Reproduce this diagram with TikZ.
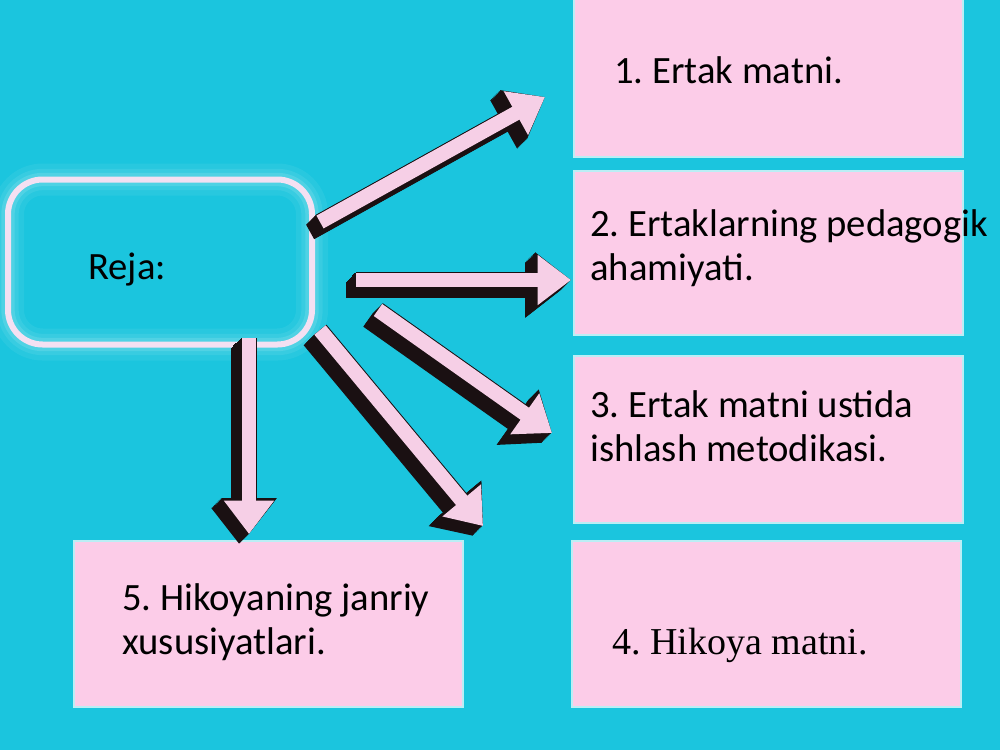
\documentclass[tikz,border=0pt]{standalone}
\usepackage{fontspec}
\setmainfont{Carlito}
\newfontfamily\romanface{Liberation Serif}
\usepackage{tikz}
\usetikzlibrary{calc}
\usetikzlibrary{shapes,arrows.meta}
\frenchspacing

\definecolor{bgcyan}{HTML}{1BC5DE}
\definecolor{boxpink}{HTML}{FCCCE8}
\definecolor{arrpink}{HTML}{F6CFE6}
\definecolor{rimpink}{HTML}{F4E0F2}
\definecolor{shade}{HTML}{1A1012}

\tikzset{
  item/.style={fill=boxpink, draw=white!70!bgcyan, line width=1.5pt,
    anchor=north west, inner sep=0pt, minimum width=291.75pt},
  itemtext/.style={anchor=west, align=left, inner sep=0pt,
    font=\fontsize{29}{33}\selectfont},
  plan/.style={draw=rimpink, line width=4.5pt, rounded corners=26pt,
    minimum width=228pt, minimum height=123.75pt,
    preaction={draw=white, draw opacity=0.06, line width=24pt},
    preaction={draw=white, draw opacity=0.08, line width=16pt},
    preaction={draw=white, draw opacity=0.12, line width=10pt}},
  arrshade/.style={draw=shade, line width=12.5pt, -{Triangle[length=27pt,width=40pt]}},
  arrface/.style={draw=arrpink, line width=11pt, -{Triangle[length=25pt,width=36pt]}}
}

% extruded fat arrow
\newcommand{\fatarrow}[2]{%
  \foreach \k in {0,1,...,11}{\draw[arrshade] ($(#1)+(-\k*0.9,\k*0.9)$) -- ($(#2)+(-\k*0.9,\k*0.9)$);}
  \draw[arrface] (#1) -- (#2);
}

\begin{document}
\begin{tikzpicture}[x=0.75pt,y=-0.75pt]
    \fill[bgcyan] (0,0) rectangle (1000,750);
    \useasboundingbox (0,0) rectangle (1000,750);

    % right column and bottom left box
    \node[item, minimum height=124.5pt] (Item1) at (573,-10) {};
    \node[item, minimum height=123pt] (Item2) at (573,170) {};
    \node[item, minimum height=125.25pt] (Item3) at (573,355) {};
    \node[item, minimum height=124.5pt] (Item4) at (571,540) {};
    \node[item, minimum height=124.5pt] (Item5) at (73,540) {};

    \node[itemtext] (Text1) at (614,70) {1. Ertak matni.};
    \node[itemtext] (Text2) at (590,248) {2. Ertaklarning pedagogik\\ahamiyati.};
    \node[itemtext] (Text3) at (590,426) {3. Ertak matni ustida\\ishlash metodikasi.};
    \node[itemtext, font=\romanface\fontsize{28.5}{33}\selectfont] (Text4) at (612,645) {4. Hikoya matni.};
    \node[itemtext] (Text5) at (122,622) {5. Hikoyaning janriy\\xususiyatlari.};

    % glowing frame
    \node[plan] (Plan) at (160,262) {};
    \node[itemtext] (PlanText) at (88,270) {Reja:};

    \coordinate (From1) at (320,222);
    \coordinate (To1) at (545,97);
    \coordinate (From2) at (356,280);
    \coordinate (To2) at (571,280);
    \coordinate (From3) at (378,310);
    \coordinate (To3) at (552,433);
    \coordinate (From4) at (320,330);
    \coordinate (To4) at (483,526);
    \coordinate (From5) at (249,338);
    \coordinate (To5) at (249,534);

    \fatarrow{From1}{To1}
    \fatarrow{From2}{To2}
    \fatarrow{From3}{To3}
    \fatarrow{From4}{To4}
    \fatarrow{From5}{To5}
\end{tikzpicture}
\end{document}
